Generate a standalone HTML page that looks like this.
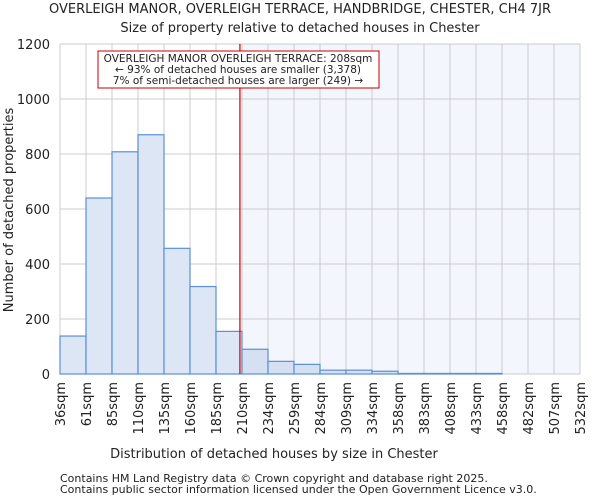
<!DOCTYPE html>
<html><head><meta charset="utf-8"><style>
body{margin:0;background:#fff;font-family:"DejaVu Sans","Liberation Sans",sans-serif;}
svg text{font-family:"DejaVu Sans","Liberation Sans",sans-serif;fill:#222;}
</style></head><body>
<svg id="chart" width="600" height="500">
<text x="300" y="13" font-size="13" text-anchor="middle">OVERLEIGH MANOR, OVERLEIGH TERRACE, HANDBRIDGE, CHESTER, CH4 7JR</text>
<text x="300" y="32" font-size="13" text-anchor="middle">Size of property relative to detached houses in Chester</text>
<g id="plot"></g>
<text x="274" y="458" font-size="13" text-anchor="middle">Distribution of detached houses by size in Chester</text>
<text transform="translate(13,210) rotate(-90)" font-size="13" text-anchor="middle">Number of detached properties</text>
<text x="60" y="482" font-size="11">Contains HM Land Registry data © Crown copyright and database right 2025.</text>
<text x="60" y="493" font-size="11">Contains public sector information licensed under the Open Government Licence v3.0.</text>
</svg>
<script>
const binLabels=["36sqm","61sqm","85sqm","110sqm","135sqm","160sqm","185sqm","210sqm","234sqm","259sqm","284sqm","309sqm","334sqm","358sqm","383sqm","408sqm","433sqm","458sqm","482sqm","507sqm","532sqm"];
const counts=[138,640,808,870,457,318,155,90,46,35,14,14,10,2,2,2,2,0,0,0];
const yTicks=[0,200,400,600,800,1000,1200];
const propertyBin=6.92;
const NS="http://www.w3.org/2000/svg";
const g=document.getElementById('plot');
const X0=60,X1=580,Y0=374,Y1=44,YMAX=1200;
const bw=(X1-X0)/counts.length;
const xs=i=>X0+i*bw;
const ys=v=>Y0-(v/YMAX)*(Y0-Y1);
function mk(t,a){const e=document.createElementNS(NS,t);for(const k in a)e.setAttribute(k,a[k]);g.appendChild(e);return e;}
const redX=xs(propertyBin);
let r=mk('rect',{x:redX,y:Y1,width:X1-redX,height:Y0-Y1,fill:'#f3f6fd'});


yTicks.forEach(v=>{
 let l=mk('line',{x1:X0,x2:X1,y1:ys(v),y2:ys(v),stroke:'#cccccc'});
 
 
 let t=mk('text',{x:X0-10,y:ys(v)+5,'font-size':13,'text-anchor':'end'});t.textContent=v;
 
 
});
binLabels.forEach((s,i)=>{
 let l=mk('line',{x1:xs(i),x2:xs(i),y1:Y1,y2:Y0,stroke:'#cccccc'});
 
 
 let t=mk('text',{transform:`translate(${xs(i)+5},${Y0+8}) rotate(-90)`,'font-size':13,'text-anchor':'end'});t.textContent=s;
 
 
});
counts.forEach((v,i)=>{
 let b=mk('rect',{x:xs(i),y:ys(v),width:bw,height:Y0-ys(v),fill:i<7?'#dde6f4':'#d5e0f3',stroke:'#5b8fd6','stroke-width':1.2});
 
 
});
let rl=mk('line',{x1:redX,x2:redX,y1:Y1,y2:Y0,stroke:'#cc0000','stroke-width':1.2});


let box=mk('rect',{x:98,y:51,width:281,height:37,fill:'#fff',stroke:'#cc0000'});


["OVERLEIGH MANOR OVERLEIGH TERRACE: 208sqm","← 93% of detached houses are smaller (3,378)","7% of semi-detached houses are larger (249) →"].forEach((s,i)=>{
 let t=mk('text',{x:238,y:62+i*11,'font-size':10.5,'text-anchor':'middle'});t.textContent=s;
 
 
});
</script>
</body></html>
